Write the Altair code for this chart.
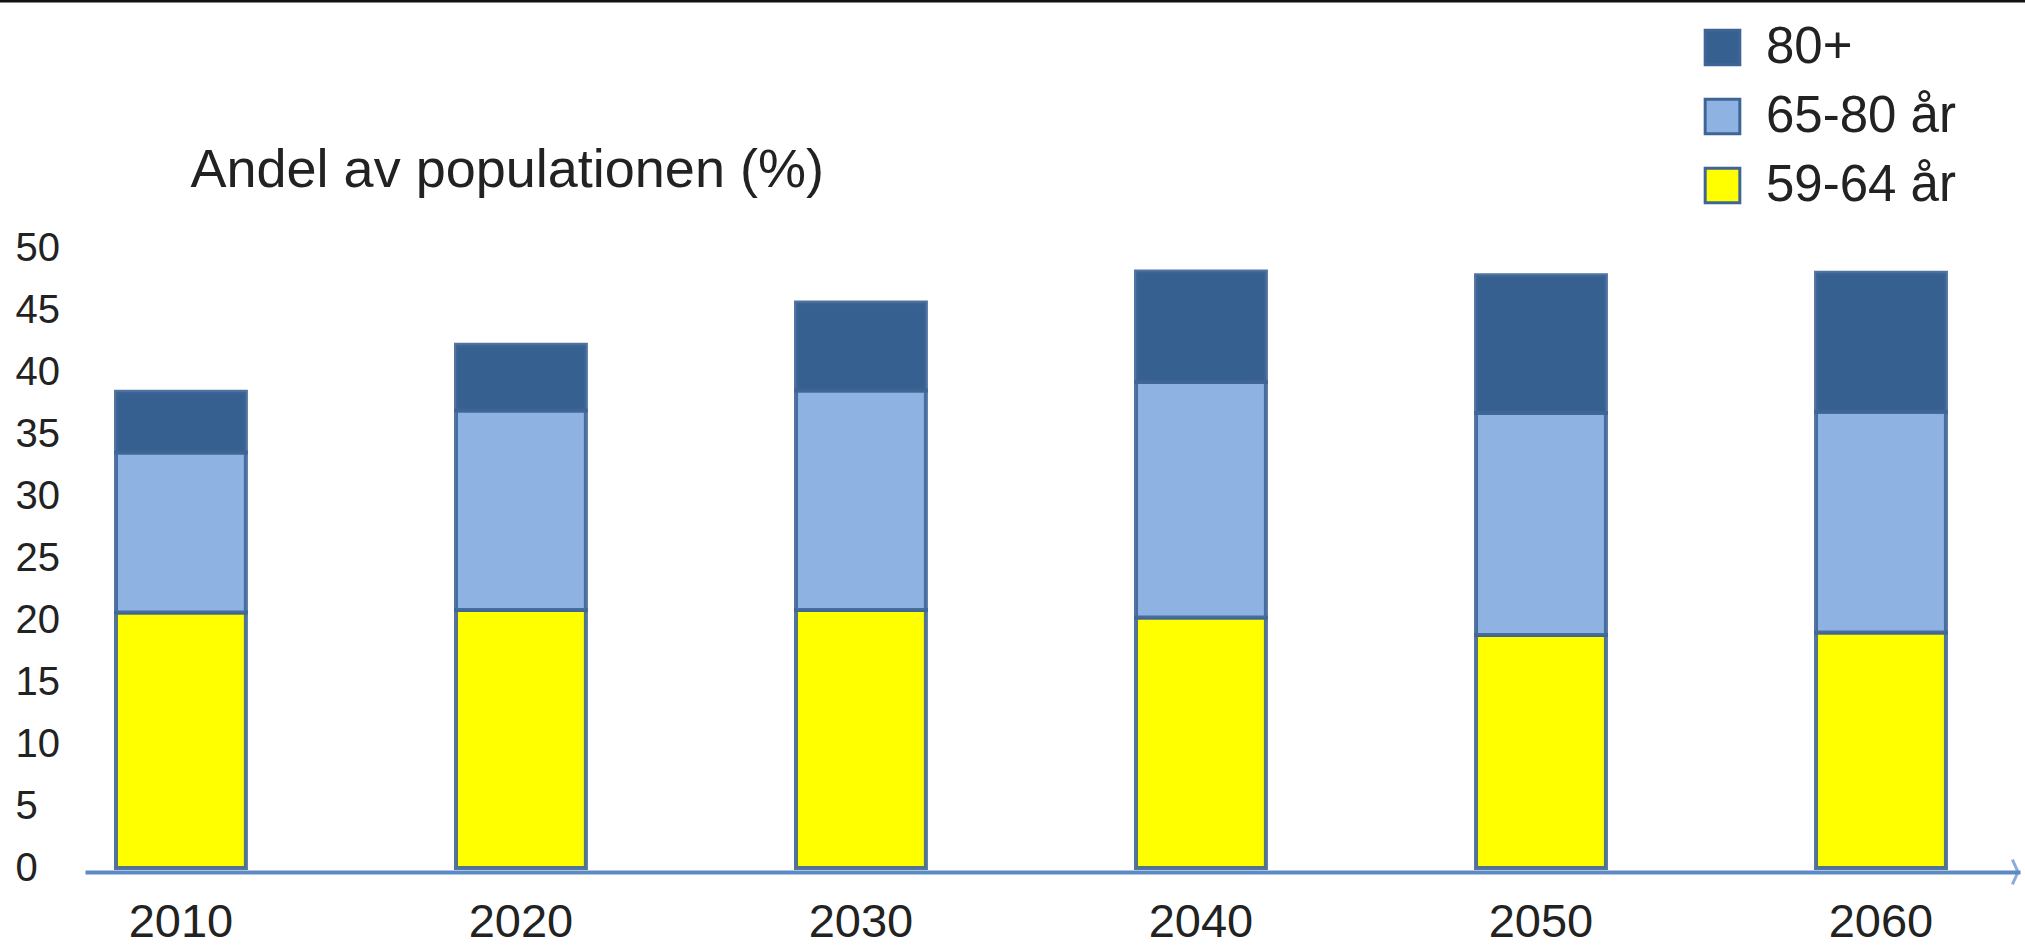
import altair as alt
import pandas as pd

years = ["2010", "2020", "2030", "2040", "2050", "2060"]
groups = ["59-64 år", "65-80 år", "80+"]
v_59_64 = [20.6, 20.8, 20.8, 20.2, 18.8, 19.0]
v_65_80 = [12.9, 16.1, 17.7, 19.0, 17.9, 17.8]
v_80 = [4.9, 5.3, 7.1, 8.9, 11.1, 11.2]
y_ticks = [0, 5, 10, 15, 20, 25, 30, 35, 40, 45, 50]

rows = []
for i, yr in enumerate(years):
    for order, (g, vals) in enumerate(zip(groups, [v_59_64, v_65_80, v_80])):
        rows.append({"year": yr, "group": g, "value": vals[i], "ord": order})
df = pd.DataFrame(rows)

FONT = "Liberation Sans"
TXT = "#222222"
W, H = 1935, 620

bars = alt.Chart(df).mark_bar(stroke="#3e6596", strokeWidth=4, strokeOpacity=0.9).encode(
    x=alt.X("year:N", sort=years,
            scale=alt.Scale(paddingInner=0.618, paddingOuter=0.1545, align=0.295),
            axis=alt.Axis(title=None, labelAngle=0, ticks=False, domain=True,
                          domainColor="#5b8ac5", domainWidth=4, offset=4,
                          labelFontSize=47, labelFont=FONT, labelColor=TXT,
                          labelPadding=64, labelBaseline="alphabetic")),
    y=alt.Y("value:Q", stack="zero",
            scale=alt.Scale(domain=[0, 50], nice=False),
            axis=alt.Axis(values=y_ticks, grid=False, domain=False, ticks=False, tickSize=0,
                          labelAlign="left", labelPadding=70, labelBaseline="middle",
                          labelFontSize=40, labelFont=FONT, labelColor=TXT,
                          title="Andel av populationen (%)", titleAngle=0,
                          titleAlign="left", titleBaseline="alphabetic",
                          titleX=105, titleY=-62, titleFont=FONT, titleFontSize=54,
                          titleFontWeight="normal", titleColor=TXT)),
    color=alt.Color("group:N",
                    scale=alt.Scale(domain=["80+", "65-80 år", "59-64 år"],
                                    range=["#36608f", "#8eb3e2", "#ffff00"]),
                    legend=alt.Legend(title=None, orient="none", legendX=1612, legendY=-226,
                                      symbolType="square", symbolSize=1200,
                                      symbolStrokeColor="#3e6596", symbolStrokeWidth=3,
                                      labelFontSize=51, labelFont=FONT, labelColor=TXT,
                                      labelOffset=18, rowPadding=17, labelLimit=400)),
    order=alt.Order("ord:Q", sort="ascending"),
)

arrow = alt.Chart(pd.DataFrame({"a": [0]})).mark_point(
    shape="M -0.45 -1 L 0 0 L -0.45 1", filled=False, stroke="#5b8ac5", strokeWidth=3, size=620
).encode(x=alt.value(W - 2), y=alt.value(H + 4))

topline = alt.Chart(pd.DataFrame({"a": [0]})).mark_rule(color="#111111", strokeWidth=3).encode(
    x=alt.value(-85), x2=alt.value(W + 5), y=alt.value(-247)
)

chart = alt.layer(bars, arrow, topline).properties(
    width=W, height=H,
    autosize=alt.AutoSizeParams(type="none"),
    padding={"left": 85, "top": 248, "right": 5, "bottom": 79},
).configure(background="white").configure_view(strokeWidth=0, stroke=None)

chart.save("out.html", embed_options={"renderer": "svg", "actions": False})
